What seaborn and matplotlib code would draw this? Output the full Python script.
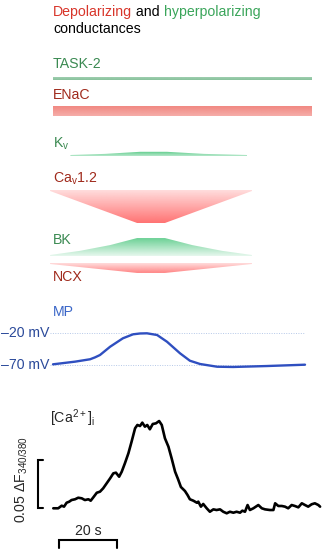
import numpy as np
import pandas as pd
import matplotlib
matplotlib.use("Agg")
import matplotlib.pyplot as plt
from matplotlib.colors import to_rgb
from matplotlib.patches import Polygon
import seaborn as sns

# ---- data ----
# conductance profiles (time in s, relative amplitude)
task2_t = [0, 89.2]
task2_amp = [0.09, 0.09]
enac_t = [0, 89.2]
enac_amp = [0.28, 0.28]
kv_t = [6, 18, 30, 39.3, 52, 67]
kv_amp = [0, 0.035, 0.1, 0.1, 0.035, 0]
cav_t = [-1, 29, 38.6, 68.6]
cav_amp = [0, 1.0, 1.0, 0]
bk_t = [-1, 9.3, 19.7, 29, 38.6, 48, 58.3, 68.6]
bk_amp = [0, 0.13, 0.31, 0.53, 0.53, 0.31, 0.13, 0]
ncx_t = [-1, 29, 38.6, 68.6]
ncx_amp = [0, 0.28, 0.28, 0]

# membrane potential (s, mV)
mp_t = [0, 7.6, 12.8, 14.5, 16.2, 19.7, 24.1, 27.6, 30, 32.4, 35.9, 39.3,
        43.8, 47.2, 50.7, 56.6, 62.1, 73.8, 86.9]
mp_mv = [-69, -64.8, -61, -58, -54.3, -41.2, -27.9, -21.6, -20.3, -20, -22.7,
         -33.3, -51.6, -63.3, -68.5, -72.8, -73.2, -71.7, -69.6]
mp_levels = [-20, -70]

# intracellular Ca2+ (s, dF340/380)
ca_t = [0.1, 1.8, 3.0, 3.8, 4.7, 5.6, 6.4, 7.6, 8.7, 9.9, 11.0, 12.2, 13.0,
        13.9, 15.1, 16.2, 17.3, 18.5, 19.7, 20.8, 21.7, 22.8, 23.7, 24.8,
        26.0, 27.1, 28.3, 29.1, 30.0, 30.8, 31.7, 32.5, 33.4, 34.4, 35.5,
        36.6, 37.5, 38.6, 39.8, 40.9, 42.1, 43.1, 44.1, 45.5, 46.4, 47.2,
        48.4, 49.6, 50.1, 51.0, 51.8, 53.0, 54.1, 55.3, 56.4, 57.6, 58.7,
        59.9, 61.0, 62.2, 63.3, 64.5, 65.3, 66.2, 67.1, 67.9, 69.1, 70.8,
        72.0, 73.1, 74.8, 76.0, 76.6, 77.7, 78.9, 80.0, 81.1, 82.3, 83.4,
        84.6, 85.8, 86.9, 88.0, 89.2, 90.3, 91.5, 92.1]
ca_df = [-0.0003, -0.0003, 0.0024, 0.0014, 0.0055, 0.0066, 0.0083, 0.0091,
         0.0107, 0.0101, 0.0083, 0.0091, 0.0076, 0.0111, 0.0159, 0.0170,
         0.0205, 0.0257, 0.0309, 0.0361, 0.0368, 0.0326, 0.0378, 0.0466,
         0.0570, 0.0691, 0.0830, 0.0865, 0.0854, 0.0889, 0.0847, 0.0865,
         0.0820, 0.0875, 0.0882, 0.0906, 0.0865, 0.0726, 0.0639, 0.0518,
         0.0378, 0.0302, 0.0219, 0.0177, 0.0135, 0.0091, 0.0076, 0.0055,
         0.0066, 0.0014, 0.0042, -0.0003, -0.0039, -0.0014, -0.0021, -0.0014,
         -0.0039, -0.0055, -0.0039, -0.0049, -0.0039, -0.0049, -0.0028,
         -0.0039, 0.0031, -0.0021, -0.0003, 0.0031, -0.0003, -0.0014, -0.0021,
         -0.0021, 0.0049, 0.0021, 0.0021, 0.0014, -0.0003, 0.0031, 0.0021,
         0.0007, 0.0049, 0.0031, 0.0014, 0.0039, 0.0049, 0.0031, 0.0014]

# ---- layout (pixels of the 323x550 canvas) ----
W, H = 323, 550
PX_PER_S = 2.9
X0 = 53
PX_PER_UNIT = 32      # conductance amplitude scale
MV_Y, MV_PX = 333.3, 0.633   # -20 mV row, px per mV
CA_Y, CA_PX = 508, 960       # baseline row, px per dF unit

RED = "#ff5050"
GREEN = "#2dbd68"
RED_TXT = "#a02a1c"
GREEN_TXT = "#3b8a52"
BLUE = "#2f4fc0"

sns.set_theme(style="white")
plt.rcParams["font.family"] = ["Liberation Sans", "DejaVu Sans"]
plt.rcParams["mathtext.fontset"] = "custom"
plt.rcParams["mathtext.rm"] = "Liberation Sans"
plt.rcParams["mathtext.it"] = "Liberation Sans:italic"

fig = plt.figure(figsize=(W / 100, H / 100), dpi=100)
xlim = (-X0 / PX_PER_S, (W - X0) / PX_PER_S)

ax = fig.add_axes([0, 0, 1, 1])
ax.set_xlim(xlim)
ax.set_ylim(H, 0)
ax.axis("off")

ax_mp = fig.add_axes([0, 0, 1, 1])
ax_mp.set_xlim(xlim)
ax_mp.set_ylim(-20 - (H - MV_Y) / MV_PX, -20 + MV_Y / MV_PX)
ax_mp.axis("off")

ax_ca = fig.add_axes([0, 0, 1, 1])
ax_ca.set_xlim(xlim)
ax_ca.set_ylim((CA_Y - H) / CA_PX, CA_Y / CA_PX)
ax_ca.axis("off")


def band(t, amp, base, direction, color, a_base, a_tip, thick=1.0):
    t = np.asarray(t, float)
    h = np.asarray(amp, float) * PX_PER_UNIT + thick
    far = base + direction * h
    verts = np.vstack([np.column_stack([t, np.full_like(t, base)]),
                       np.column_stack([t[::-1], far[::-1]])])
    patch = Polygon(verts, closed=True, facecolor="none", edgecolor="none")
    ax.add_patch(patch)
    n = 64
    frac = np.linspace(0, 1, n)
    rgba = np.zeros((n, 2, 4))
    rgba[..., :3] = to_rgb(color)
    rgba[..., 3] = (a_base + (a_tip - a_base) * frac)[:, None]
    im = ax.imshow(rgba, extent=(t.min(), t.max(), base, base + direction * h.max()),
                   origin="lower", aspect="auto", interpolation="bilinear", zorder=2)
    im.set_clip_path(patch)


band(task2_t, task2_amp, 80, -1, "#5fae7a", 0.75, 0.55, thick=0.5)
band(enac_t, enac_amp, 106, 1, "#ee6a62", 0.8, 0.55)
band(kv_t, kv_amp, 156, -1, GREEN, 0.35, 0.8)
band(cav_t, cav_amp, 190, 1, RED, 0.2, 0.8)
band(bk_t, bk_amp, 256, -1, GREEN, 0.12, 0.7)
band(ncx_t, ncx_amp, 263, 1, RED, 0.2, 0.7)
ax.set_xlim(xlim)
ax.set_ylim(H, 0)

# title in three colours
fs = 10.2
t1 = ax.text(0, 12, "Depolarizing", color="#d8352a", fontsize=fs, va="center")
t2 = ax.annotate(" and ", xy=(1, 0), xycoords=t1, va="bottom", color="black", fontsize=fs)
ax.annotate("hyperpolarizing", xy=(1, 0), xycoords=t2, va="bottom", color="#3aa55a", fontsize=fs)
ax.text(0, 29, "conductances", color="black", fontsize=fs, va="center")

labels = [("TASK-2", 64, GREEN_TXT), ("ENaC", 95, RED_TXT),
          (r"K$_\mathrm{v}$", 144, GREEN_TXT), (r"Ca$_\mathrm{v}$1.2", 179, RED_TXT),
          ("BK", 240, GREEN_TXT), ("NCX", 277, RED_TXT), ("MP", 312, "#3a66c8")]
for txt, y, c in labels:
    ax.text(0, y, txt, color=c, fontsize=fs, va="center")

# membrane potential
ax_mp.hlines(mp_levels, -1, 87, colors="#b5c8e8", linestyles=(0, (1, 1.5)), lw=0.7)
for lv in mp_levels:
    ax_mp.text(-1.2, lv, "\u201320 mV" if lv == -20 else "\u201370 mV",
               ha="right", va="center", fontsize=fs, color="#2b4a9a")
mp = pd.DataFrame({"t": mp_t, "mv": mp_mv})
sns.lineplot(data=mp, x="t", y="mv", ax=ax_mp, color=BLUE, lw=1.7, sort=False)
ax_mp.set_xlim(xlim)
ax_mp.set_ylim(-20 - (H - MV_Y) / MV_PX, -20 + MV_Y / MV_PX)
ax_mp.axis("off")

# calcium trace
ca = pd.DataFrame({"t": ca_t, "df": ca_df})
sns.lineplot(data=ca, x="t", y="df", ax=ax_ca, color="black", lw=1.9, sort=False)
ax_ca.text(-1, (CA_Y - 418) / CA_PX, r"[Ca$^{2+}$]$_\mathrm{i}$", fontsize=fs, va="center")
ax_ca.plot([-3.4, -5.3, -5.3, -3.4], [0.05, 0.05, 0, 0], color="black", lw=1.5,
           solid_joinstyle="miter")
ax_ca.text(-10.7, (CA_Y - 480) / CA_PX, r"0.05 $\Delta$F$_{340/380}$", rotation=90,
           ha="center", va="center", fontsize=fs)
ax_ca.set_xlim(xlim)
ax_ca.set_ylim((CA_Y - H) / CA_PX, CA_Y / CA_PX)
ax_ca.axis("off")

# time scale bar
ax.plot([2.2, 2.2, 22.2, 22.2], [548, 539.5, 539.5, 548], color="black", lw=1.5,
        solid_joinstyle="miter")
ax.text(12.2, 531, "20 s", ha="center", va="center", fontsize=fs)

fig.savefig("out.png", dpi=100)
